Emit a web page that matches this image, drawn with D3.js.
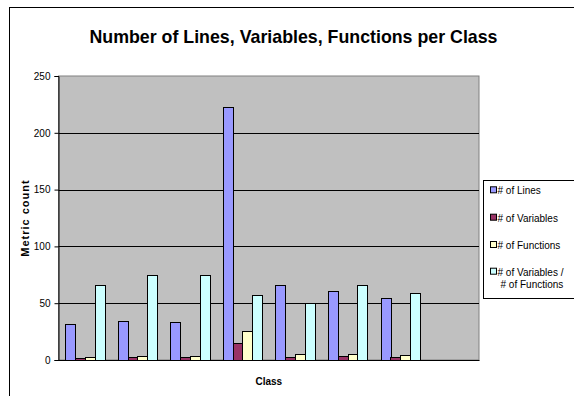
<!DOCTYPE html>
<html>
<head>
<meta charset="utf-8">
<script src="https://cdn.jsdelivr.net/npm/d3@7"></script>
<style>
  html, body { margin: 0; padding: 0; background: #fff; }
  svg { display: block; font-family: "Liberation Sans", Arial, sans-serif; }
</style>
</head>
<body>
<svg id="chart" width="574" height="396"></svg>
<script>
// ---- data ----
const categories = ["1", "2", "3", "4", "5", "6", "7", "8"];
const seriesNames = ["# of Lines", "# of Variables", "# of Functions", "# of Variables /\n# of Functions"];
const linesCount     = [31.5, 34.5, 33.5, 222.5, 66, 61, 54.5];
const variablesCount = [1.5, 2.4, 2.4, 14.7, 2.4, 3.8, 2.4];
const functionsCount = [2.4, 3.8, 3.8, 25.6, 5.6, 5.6, 4.4];
const ratioCount     = [66.2, 74.7, 74.7, 57.4, 50, 66.2, 59.4];
const yTicks = [0, 50, 100, 150, 200, 250];
const colors = ["#9999FF", "#993366", "#FFFFCC", "#CCFFFF"];

const series = [linesCount, variablesCount, functionsCount, ratioCount];

const svg = d3.select("#chart");

// outer chart frame
svg.append("rect").attr("x", 9.5).attr("y", 7.5).attr("width", 600).attr("height", 400)
  .attr("fill", "#fff").attr("stroke", "#000").attr("stroke-width", 1);

const plot = { left: 58.5, right: 479, top: 76, bottom: 360 };

const x0 = d3.scaleBand().domain(categories).range([plot.left, plot.right]).padding(0);
const x1 = d3.scaleBand().domain(d3.range(series.length)).range([0, x0.bandwidth()])
  .paddingInner(0).paddingOuter(0.69);
const y = d3.scaleLinear().domain([0, 250]).range([plot.bottom, plot.top]);

// plot background
svg.append("rect").attr("x", plot.left).attr("y", plot.top)
  .attr("width", plot.right - plot.left).attr("height", plot.bottom - plot.top)
  .attr("fill", "#C0C0C0").attr("stroke", "#808080").attr("stroke-width", 1);

// gridlines
svg.append("g").selectAll("line").data(yTicks.filter(d => d > 0 && d < 250)).join("line")
  .attr("x1", plot.left).attr("x2", plot.right)
  .attr("y1", d => Math.round(y(d)) + 0.5).attr("y2", d => Math.round(y(d)) + 0.5)
  .attr("stroke", "#000").attr("stroke-width", 1);

// bars
const barData = [];
series.forEach((vals, si) => vals.forEach((v, ci) => barData.push({ s: si, c: categories[ci], v })));
svg.append("g").selectAll("rect").data(barData).join("rect")
  .attr("x", d => Math.round(x0(d.c) + x1(d.s)) + 0.5)
  .attr("y", d => Math.round(y(d.v)) + 0.5)
  .attr("width", Math.round(x1.bandwidth()))
  .attr("height", d => Math.max(0, Math.round(y(0)) - Math.round(y(d.v))))
  .attr("fill", d => colors[d.s])
  .attr("stroke", "#000").attr("stroke-width", 1);

// y axis
const yAxis = d3.axisLeft(y).tickValues(yTicks).tickSize(4).tickPadding(4);
const ya = svg.append("g").attr("transform", `translate(${plot.left},0)`).call(yAxis);
ya.select(".domain").attr("stroke", "#000");
ya.selectAll(".tick line").attr("stroke", "#000");
ya.selectAll(".tick text").attr("font-size", 10).attr("fill", "#000")
  .attr("font-family", "Liberation Sans, Arial, sans-serif");

// x axis baseline
const xAxis = d3.axisBottom(x0).tickSize(0).tickFormat(() => "");
const xa = svg.append("g").attr("transform", `translate(0,${plot.bottom})`).call(xAxis);
xa.select(".domain").attr("stroke", "#000");

// title
svg.append("text").attr("x", 293.5).attr("y", 42.7).attr("text-anchor", "middle")
  .attr("font-size", 19).attr("font-weight", "bold")
  .attr("textLength", 408).attr("lengthAdjust", "spacingAndGlyphs")
  .text("Number of Lines, Variables, Functions per Class");

// axis titles
svg.append("text").attr("transform", `translate(29,218) rotate(-90)`).attr("text-anchor", "middle")
  .attr("font-size", 11).attr("font-weight", "bold").attr("letter-spacing", 1)
  .text("Metric count");
svg.append("text").attr("x", 268.8).attr("y", 385).attr("text-anchor", "middle")
  .attr("font-size", 10).attr("font-weight", "bold").text("Class");

// legend
const lg = svg.append("g");
lg.append("rect").attr("x", 483.5).attr("y", 180.5).attr("width", 120).attr("height", 118)
  .attr("fill", "#fff").attr("stroke", "#000").attr("stroke-width", 1);
const rowY = [194.3, 221.7, 249, 275.7];
seriesNames.forEach((name, i) => {
  lg.append("rect").attr("x", 490.5).attr("y", rowY[i] - 7.5).attr("width", 6).attr("height", 6)
    .attr("fill", colors[i]).attr("stroke", "#000").attr("stroke-width", 1);
  const t = lg.append("text").attr("x", 497.5).attr("y", rowY[i]).attr("font-size", 10);
  name.split("\n").forEach((ln, k) => {
    t.append("tspan").attr("x", k === 0 ? 497.5 : 500.5).attr("dy", k === 0 ? 0 : 12.6).text(ln);
  });
});
</script>
</body>
</html>
